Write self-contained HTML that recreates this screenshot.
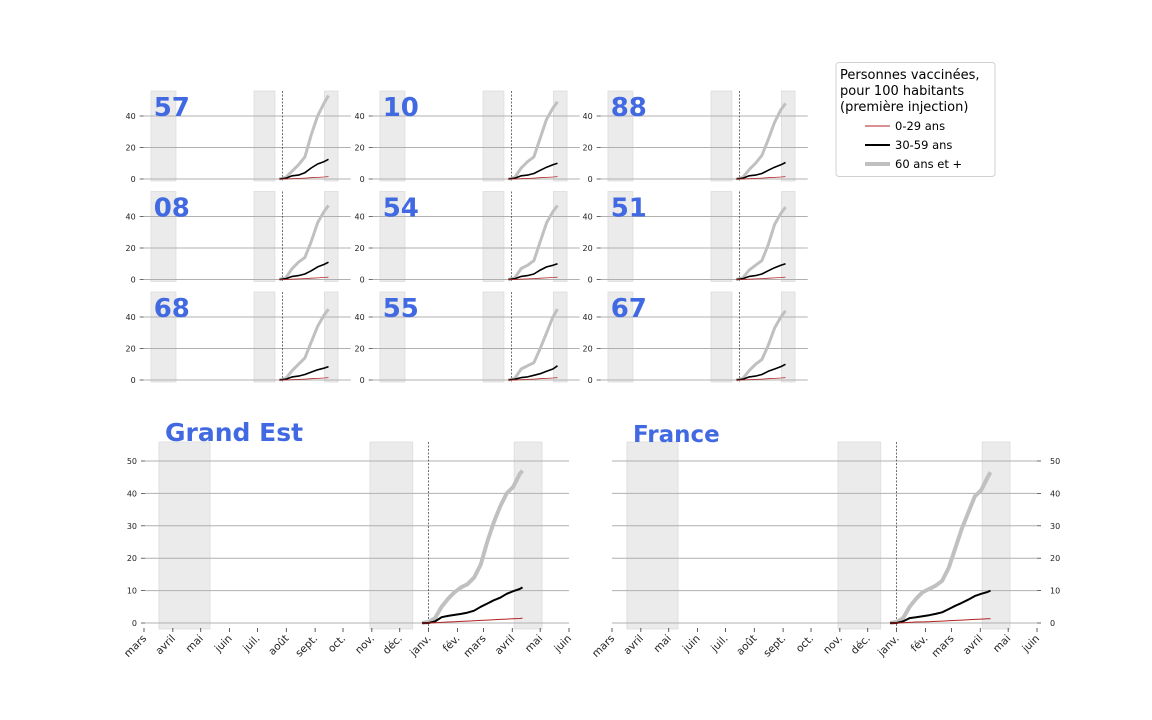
<!DOCTYPE html>
<html><head><meta charset="utf-8">
<style>
body{margin:0;background:#fff;}
svg{display:block;font-family:"DejaVu Sans","Liberation Sans",sans-serif;}
</style></head>
<body>
<svg id="chart" width="1152" height="720" viewBox="0 0 1152 720" xmlns="http://www.w3.org/2000/svg">
<g id="legend">
<rect x="836" y="62.5" width="159" height="114" rx="3" fill="#fff" stroke="#d0d0d0"/>
<text x="840" y="79" font-size="13" fill="#000">Personnes vaccinées,</text>
<text x="840" y="95" font-size="13" fill="#000">pour 100 habitants</text>
<text x="840" y="111" font-size="13" fill="#000">(première injection)</text>
<g><line x1="865" x2="890" y1="126" y2="126" stroke="#b22222" stroke-width="1"/><text x="895" y="130" font-size="11.5">0-29 ans</text></g>
<g><line x1="865" x2="890" y1="145" y2="145" stroke="#000" stroke-width="2"/><text x="895" y="149" font-size="11.5">30-59 ans</text></g>
<g><line x1="865" x2="890" y1="164" y2="164" stroke="#c0c0c0" stroke-width="4"/><text x="895" y="168" font-size="11.5">60 ans et +</text></g>
</g>
</svg>
<script>
// day index from 2020-03-01
const monthLabels=["mars","avril","mai","juin","juil.","août","sept.","oct.","nov.","déc.","janv.","fév.","mars","avril","mai","juin"];
const monthDays=[0,31,61,92,122,153,184,214,245,275,306,337,365,396,426,457];
const shadeStarts=[16,243,398];
const shadeEnds=[71,289,428];
const vaxStartDay=306;

const bigDays=[299,306,313,320,327,334,341,348,355,362,369,376,383,390,397,404,407];
const geOld=[0,0.3,1.5,5,7.5,9.5,11,12,14,18,25,31,36,40,42,46,47];
const geMid=[0,0,0.5,1.8,2.2,2.5,2.8,3.2,3.8,5,6,7,7.8,9,9.8,10.5,11];
const geYoung=[0,0,0.1,0.2,0.3,0.4,0.5,0.6,0.7,0.8,0.9,1.0,1.1,1.2,1.3,1.4,1.5];
const frOld=[0,0.3,1.5,5,7.5,9.5,10.5,11.5,13,17,23,29,34,39,41,45,46.5];
const frMid=[0,0,0.5,1.5,1.8,2.1,2.4,2.8,3.3,4.3,5.3,6.2,7.2,8.3,9,9.6,10];
const frYoung=[0,0,0.1,0.2,0.3,0.35,0.4,0.5,0.6,0.7,0.8,0.9,1.0,1.1,1.2,1.3,1.3];

const smallDays=[299,313,327,341,355,369,383,397,407];
const deptNames=["57","10","88","08","54","51","68","55","67"];
const deptOld=[[0,1,5,9,14,28,40,48,53],[0,1,7,11,14,26,38,45,49],[0,1,6,10,15,25,36,44,48],
[0,1,7,11,14,24,36,43,47],[0,1,7,9,12,24,36,43,47],[0,1,6,9,12,22,35,42,46],
[0,1,6,10,14,24,34,41,45],[0,1,7,9,11,20,30,40,45],[0,1,6,10,13,22,33,40,44]];
const deptMid=[[0,0.5,2,2.5,4,7,9.5,11,12.5],[0,0.5,2,2.5,3.5,5.5,7.5,9,10],[0,0.5,2,2.5,3.5,5.5,7.5,9,10.5],
[0,0.5,2,2.5,3.5,5.5,8,9.5,11],[0,0.5,2,2.5,3.5,6,8,9,10],[0,0.5,2,2.5,3.5,5.5,7.5,9,10],
[0,0.5,2,2.5,3.5,5,6.5,7.5,8.5],[0,0.5,1.5,2,3,4,5.5,7,9],[0,0.5,2,2.5,3.5,5.5,7,8.5,10]];
const deptYoung=[[0,0,0.2,0.4,0.6,0.8,1,1.3,1.5],[0,0,0.2,0.4,0.6,0.8,1,1.3,1.5],[0,0,0.2,0.4,0.6,0.8,1,1.3,1.5],
[0,0,0.2,0.4,0.6,0.8,1,1.3,1.5],[0,0,0.2,0.4,0.6,0.8,1,1.3,1.5],[0,0,0.2,0.4,0.6,0.8,1,1.3,1.5],
[0,0,0.2,0.4,0.6,0.8,1,1.3,1.5],[0,0,0.2,0.4,0.6,0.8,1,1.3,1.5],[0,0,0.2,0.4,0.6,0.8,1,1.3,1.5]];
const bigTicks=[0,10,20,30,40,50];
const smallTicks=[0,20,40];

const NS="http://www.w3.org/2000/svg";
const svg=document.getElementById('chart');
function mk(tag,attrs,parent){const e=document.createElementNS(NS,tag);for(const k in attrs)e.setAttribute(k,attrs[k]);(parent||svg).appendChild(e);return e;}

function panel(o){
  const g=mk('g',{});
  
  
  const X=d=>o.x0+d*o.sx, Y=v=>o.y0-v*o.sy;
  for(let i=0;i<shadeStarts.length;i++){
    const r=mk('rect',{x:X(shadeStarts[i]),y:o.top,width:X(shadeEnds[i])-X(shadeStarts[i]),height:o.bottom-o.top,fill:'#ebebeb',stroke:'#dcdcdc','stroke-width':0.8},g);
    
    
  }
  o.ticks.forEach(t=>{
    const l=mk('line',{x1:o.gx1,x2:o.gx2,y1:Y(t),y2:Y(t),stroke:'#b0b0b0','stroke-width':1},g);
    
    
    const tx=mk('text',{x:o.right?o.gx2+13:o.gx1-8,y:Y(t)+3,'font-size':o.tfs,'text-anchor':o.right?'start':'end',fill:'#222'},g);
    tx.textContent=t;
    
    
    mk('line',{x1:o.right?o.gx2:o.gx1-4,x2:o.right?o.gx2+4:o.gx1,y1:Y(t),y2:Y(t),stroke:'#444','stroke-width':0.8},g);
  });
  const dl=mk('line',{x1:X(vaxStartDay),x2:X(vaxStartDay),y1:o.top,y2:o.bottom,stroke:'#333','stroke-width':0.7,'stroke-dasharray':'2,1.5'},g);
  
  
  const series=[[o.old,'#c0c0c0',o.w[0],'series-60-plus'],[o.mid,'#000',o.w[1],'series-30-59'],[o.young,'#b22222',o.w[2],'series-0-29']];
  series.forEach(s=>{
    const pts=o.days.map((d,i)=>X(d).toFixed(1)+','+Y(s[0][i]).toFixed(1)).join(' ');
    const p=mk('polyline',{points:pts,fill:'none',stroke:s[1],'stroke-width':s[2],'stroke-linejoin':'round'},g);
    
    
  });
  const t=mk('text',{x:o.tx,y:o.ty,'font-size':o.tsz,'font-weight':'bold',fill:'#4169e1'},g);
  t.textContent=o.title;
  
  
  if(o.xaxis){
    monthDays.forEach((d,i)=>{
      mk('line',{x1:X(d),x2:X(d),y1:o.bottom-1,y2:o.bottom+3,stroke:'#333','stroke-width':0.8},g);
      const tx=mk('text',{x:X(d)+3,y:o.bottom+10,'font-size':10.5,'text-anchor':'end',fill:'#222',transform:`rotate(-45 ${X(d)+3} ${o.bottom+10})`},g);
      tx.textContent=monthLabels[i];
      
      
    });
  }
}
const bsx=425/457;
panel({name:'grand-est-panel',x0:144,sx:bsx,y0:623,sy:3.24,top:442,bottom:629,gx1:145,gx2:569,ticks:bigTicks,tfs:8,right:false,
  days:bigDays,old:geOld,mid:geMid,young:geYoung,w:[4,2,1],title:'Grand Est',tx:165,ty:441,tsz:25,xaxis:true});
panel({name:'france-panel',x0:612,sx:bsx,y0:623,sy:3.24,top:442,bottom:629,gx1:612,gx2:1037,ticks:bigTicks,tfs:8,right:true,
  days:bigDays,old:frOld,mid:frMid,young:frYoung,w:[4,2,1],title:'France',tx:633,ty:442,tsz:23,xaxis:true});
const colX=[143.7,372.7,600.7], rowY=[179,279.5,380];
deptNames.forEach((n,i)=>{
  const c=i%3,r=Math.floor(i/3);
  panel({name:'dept-'+n+'-panel',x0:colX[c],sx:0.454,y0:rowY[r],sy:1.575,top:rowY[r]-88,bottom:rowY[r]+2,gx1:colX[c],gx2:colX[c]+207,ticks:smallTicks,tfs:8,right:false,
    days:smallDays,old:deptOld[i],mid:deptMid[i],young:deptYoung[i],w:[3,1.6,0.8],title:n,tx:colX[c]+10,ty:rowY[r]-63,tsz:26,xaxis:false});
});
</script>
</body></html>
